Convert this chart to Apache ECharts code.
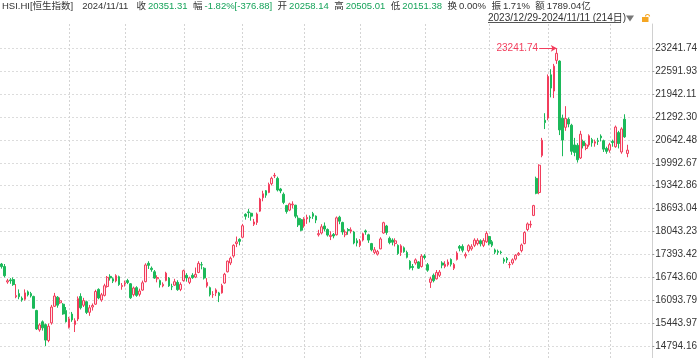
<!DOCTYPE html>
<html><head><meta charset="utf-8">
<script src="https://cdn.jsdelivr.net/npm/echarts@6/dist/echarts.min.js"></script>
<style>html,body{margin:0;padding:0;background:#fff}#c{width:700px;height:358px}</style>
</head><body><div id="c"></div>
<script>
const dates = ['2023/12/29',
'2024/01/02','2024/01/03','2024/01/04','2024/01/05','2024/01/08','2024/01/09','2024/01/10','2024/01/11','2024/01/12','2024/01/15','2024/01/16','2024/01/17','2024/01/18','2024/01/19','2024/01/22','2024/01/23','2024/01/24','2024/01/25','2024/01/26','2024/01/29','2024/01/30','2024/01/31',
'2024/02/01','2024/02/02','2024/02/05','2024/02/06','2024/02/07','2024/02/08','2024/02/09','2024/02/14','2024/02/15','2024/02/16','2024/02/19','2024/02/20','2024/02/21','2024/02/22','2024/02/23','2024/02/26','2024/02/27','2024/02/28','2024/02/29',
'2024/03/01','2024/03/04','2024/03/05','2024/03/06','2024/03/07','2024/03/08','2024/03/11','2024/03/12','2024/03/13','2024/03/14','2024/03/15','2024/03/18','2024/03/19','2024/03/20','2024/03/21','2024/03/22','2024/03/25','2024/03/26','2024/03/27','2024/03/28',
'2024/04/02','2024/04/03','2024/04/05','2024/04/08','2024/04/09','2024/04/10','2024/04/11','2024/04/12','2024/04/15','2024/04/16','2024/04/17','2024/04/18','2024/04/19','2024/04/22','2024/04/23','2024/04/24','2024/04/25','2024/04/26','2024/04/29','2024/04/30',
'2024/05/02','2024/05/03','2024/05/06','2024/05/07','2024/05/08','2024/05/09','2024/05/10','2024/05/13','2024/05/14','2024/05/16','2024/05/17','2024/05/20','2024/05/21','2024/05/22','2024/05/23','2024/05/24','2024/05/27','2024/05/28','2024/05/29','2024/05/30','2024/05/31',
'2024/06/03','2024/06/04','2024/06/05','2024/06/06','2024/06/07','2024/06/11','2024/06/12','2024/06/13','2024/06/14','2024/06/17','2024/06/18','2024/06/19','2024/06/20','2024/06/21','2024/06/24','2024/06/25','2024/06/26','2024/06/27','2024/06/28',
'2024/07/02','2024/07/03','2024/07/04','2024/07/05','2024/07/08','2024/07/09','2024/07/10','2024/07/11','2024/07/12','2024/07/15','2024/07/16','2024/07/17','2024/07/18','2024/07/19','2024/07/22','2024/07/23','2024/07/24','2024/07/25','2024/07/26','2024/07/29','2024/07/30','2024/07/31',
'2024/08/01','2024/08/02','2024/08/05','2024/08/06','2024/08/07','2024/08/08','2024/08/09','2024/08/12','2024/08/13','2024/08/14','2024/08/15','2024/08/16','2024/08/19','2024/08/20','2024/08/21','2024/08/22','2024/08/23','2024/08/26','2024/08/27','2024/08/28','2024/08/29','2024/08/30',
'2024/09/02','2024/09/03','2024/09/04','2024/09/05','2024/09/06','2024/09/09','2024/09/10','2024/09/11','2024/09/12','2024/09/13','2024/09/16','2024/09/17','2024/09/19','2024/09/20','2024/09/23','2024/09/24','2024/09/25','2024/09/26','2024/09/27','2024/09/30',
'2024/10/02','2024/10/03','2024/10/04','2024/10/07','2024/10/08','2024/10/09','2024/10/10','2024/10/14','2024/10/15','2024/10/16','2024/10/17','2024/10/18','2024/10/21','2024/10/22','2024/10/23','2024/10/24','2024/10/25','2024/10/28','2024/10/29','2024/10/30','2024/10/31',
'2024/11/01','2024/11/04','2024/11/05','2024/11/06','2024/11/07','2024/11/08','2024/11/11'];

const opens = [17120,
17050,16610,16670,16680,16190,16280,16150,16120,16330,16280,16200,15800,15250,15480,15400,14950,15450,15920,16180,16020,15980,15800,
15320,15700,15400,15560,16200,15950,16050,15750,15900,15980,16400,16100,16230,16480,16770,16700,16640,16760,16480,
16560,16650,16560,16250,16450,16260,16380,16620,17140,17000,16900,16700,16650,16500,16650,16720,16480,16520,16600,16400,
16650,16800,16600,16800,16750,16880,17100,17000,16500,16450,16250,16300,16300,16300,16580,16900,17150,17350,17700,17820,
17880,18530,18600,18560,18250,18300,18620,19000,19200,19150,19400,19620,19550,19250,19100,18780,18650,18800,18790,18420,18380,
18200,18400,18450,18550,18480,17950,18000,18200,18100,17900,17960,17950,18450,18300,17950,18100,18050,18030,17780,
17650,17800,18060,17950,17700,17450,17400,17550,18000,18200,17850,17800,17700,17650,17450,17580,17450,17200,17050,17150,17180,17050,
17350,17100,16600,16800,16700,16800,17150,17050,17100,17250,17000,17250,17620,17620,17350,17500,17550,17650,17700,17780,17650,17750,
17900,17750,17520,17480,17460,17250,17280,17100,17150,17260,17380,17500,17700,18100,18230,18500,19550,19150,20200,21200,
21260,22490,22030,22900,22880,21260,21000,21230,21060,20500,20490,20130,20600,20400,20500,20650,20550,20620,20750,20620,20400,
20350,20600,20450,20850,20300,21230,20258.14];

const closes = [17047.39,
16788.55,16645.98,16646.41,16535.33,16224.45,16190.02,16097.28,16302.03,16244.58,16216.33,15865.92,15276.90,15391.82,15308.69,14961.18,15353.98,15899.87,16211.96,15952.23,16077.24,15703.45,15485.07,
15566.21,15533.56,15510.01,16137.00,15878.07,16081.89,15746.58,15879.38,15944.63,16339.96,16155.61,16247.51,16503.10,16742.35,16725.86,16634.74,16790.80,16536.85,16511.44,
16589.44,16595.97,16162.64,16438.09,16229.78,16353.39,16587.29,17093.50,17082.11,16961.64,16720.89,16737.12,16529.48,16543.07,16863.10,16499.47,16473.64,16618.32,16392.84,16541.42,
16931.52,16725.10,16723.92,16732.85,16828.07,17139.17,17095.03,16721.69,16600.46,16248.97,16251.84,16385.87,16224.14,16511.69,16828.93,17201.27,17284.54,17651.15,17746.91,17763.03,
18207.13,18475.92,18578.30,18479.37,18313.86,18537.81,18963.68,19115.06,19073.71,19376.53,19553.61,19636.22,19220.62,19195.60,18868.71,18608.94,18827.35,18821.16,18477.01,18230.19,18079.61,
18403.04,18444.11,18424.96,18475.89,18366.95,17983.07,18176.34,18112.63,17941.78,17936.12,17915.55,18430.39,18335.32,18028.52,18027.71,18072.90,18089.93,17716.47,17718.61,
17769.14,17978.57,18028.28,17799.61,17524.06,17523.23,17471.67,17832.33,18293.38,18015.94,17727.98,17739.41,17778.41,17417.68,17635.88,17469.36,17311.05,17004.96,17021.31,17238.34,17002.91,17344.60,
17304.96,16945.51,16698.36,16647.34,16877.86,16891.83,17090.23,17111.92,17174.06,17113.36,17109.14,17430.16,17569.57,17511.08,17391.01,17641.02,17612.10,17798.73,17790.97,17692.45,17786.32,17989.07,
17691.97,17651.49,17457.34,17453.00,17444.30,17196.96,17234.09,17108.71,17240.39,17369.09,17422.12,17660.02,18013.16,18258.57,18247.11,18778.18,19129.10,19924.58,20632.30,21133.68,
22443.73,22113.51,22736.87,23099.78,20926.79,20637.24,21251.98,21092.87,20318.79,20286.83,20079.11,20804.11,20478.46,20498.95,20760.15,20559.00,20590.15,20599.36,20701.05,20380.64,20317.33,
20506.43,20567.52,21006.97,20538.38,20953.34,20728.19,20351.31];

const lows = [16990,
16740,16560,16560,16500,16150,16120,16050,16080,16200,16170,15860,15250,15200,15230,14794.16,14900,15400,15900,15880,15990,15680,15460,
15290,15480,15190,15500,15830,15900,15700,15650,15800,15960,16120,16050,16200,16450,16650,16580,16600,16500,16390,
16480,16550,16130,16200,16190,16200,16360,16600,16980,16900,16700,16600,16450,16460,16630,16470,16380,16500,16360,16350,
16620,16620,16550,16700,16720,16860,16970,16680,16450,16200,16160,16210,16040,16280,16560,16880,17090,17300,17600,17650,
17850,18380,18430,18350,18200,18230,18600,18900,19000,19130,19350,19560,19180,19130,18820,18550,18620,18700,18420,18170,18050,
18150,18260,18300,18400,18280,17900,17960,18050,17900,17800,17850,17930,18250,17950,17880,17950,17990,17680,17620,
17600,17760,17950,17720,17480,17400,17360,17540,17980,17950,17680,17650,17620,17380,17350,17440,17280,16960,16940,17100,16980,17020,
17250,16900,16441,16600,16680,16750,17000,17000,17050,17050,16950,17220,17480,17450,17280,17450,17500,17600,17650,17620,17600,17720,
17650,17600,17400,17380,17400,17130,17150,17000,17100,17220,17350,17450,17680,18050,18150,18480,19100,19100,20150,20950,
21200,21850,21830,22800,20780,20180,20900,21000,20220,20180,20000,20100,20400,20350,20450,20450,20450,20500,20600,20300,20250,
20280,20450,20420,20400,20250,20700,20151.38];

const highs = [17150,
17120,16700,16720,16740,16550,16400,16200,16400,16370,16330,16220,15820,15440,15520,15430,15430,15960,16300,16210,16170,16010,15900,
15620,15760,15580,16200,16290,16160,16080,15960,16000,16390,16430,16300,16560,16780,16830,16740,16830,16790,16580,
16650,16700,16580,16480,16490,16420,16650,17140,17200,17050,16950,16800,16680,16600,16900,16750,16560,16700,16660,16600,
16960,16860,16760,16860,17020,17200,17180,17030,16720,16480,16350,16430,16330,16560,16870,17220,17330,17680,17900,17850,
18260,18560,18680,18580,18400,18580,19000,19200,19220,19430,19600,19706,19600,19280,19150,18800,18860,18900,18800,18500,18420,
18450,18520,18500,18600,18500,18090,18250,18300,18130,18050,18000,18470,18490,18320,18100,18140,18160,18060,17850,
17830,18010,18100,17980,17720,17600,17520,17880,18320,18230,17900,17850,17850,17680,17680,17620,17500,17230,17120,17280,17200,17400,
17400,17150,16760,16850,16950,16950,17200,17200,17250,17280,17150,17480,17660,17680,17450,17680,17680,17850,17850,17820,17850,18050,
17920,17800,17560,17530,17500,17300,17320,17180,17280,17400,17460,17700,18050,18300,18350,18800,19600,19950,20700,21400,
22500,22650,22800,23241.74,22900,21360,21600,21280,21100,20700,20550,20900,20650,20560,20800,20700,20650,20700,20800,20650,20450,
20560,20650,21050,20900,21000,21370,20505.01];

const monthStarts = ['2024/02/01','2024/03/01','2024/04/02','2024/05/02','2024/06/03','2024/07/02','2024/08/01','2024/09/02','2024/10/02','2024/11/01'];
const yTickLabels = ['23241.74','22591.93','21942.11','21292.30','20642.48','19992.67','19342.86','18693.04','18043.23','17393.42','16743.60','16093.79','15443.97','14794.16'];

const symbolName = 'HSI.HI[恒生指数]';
const quoteDate = '2024/11/11';
const quoteLabels = ['收','幅','开','高','低','换','振','额'];
const quoteValues = ['20351.31','-1.82%[-376.88]','20258.14','20505.01','20151.38','0.00%','1.71%','1789.04亿'];
const quoteIsPrice = [true,true,true,true,true,false,false,false];

const RED = '#f23d5c', GREEN = '#1cb95a', QGREEN = '#16a35a';
const FONT = '"Liberation Sans","Noto Sans CJK SC",sans-serif';
const GRID = {left: 0, right: 45, top: 24, bottom: 0};
const H = 358;

const candles = dates.map((d, i) => [opens[i], closes[i], lows[i], highs[i]]);
const tickNums = yTickLabels.map(Number);
const tTop = Math.max(...tickNums), tBot = Math.min(...tickNums);
const tStep = (tTop - tBot) / (tickNums.length - 1);
const yMin = Math.floor(tBot - tStep * 0.524), yMax = Math.ceil(tTop + tStep * 1.061);
let maxIdx = 0;
highs.forEach((h, i) => { if (h > highs[maxIdx]) maxIdx = i; });

// header laid out as a flow of text runs
const hdrFont = '9.5px ' + FONT;
const ctx = document.createElement('canvas').getContext('2d');
ctx.font = hdrFont;
const tw = s => ctx.measureText(s).width;
const headerY = 6.5;
const graphics = [];
let cx = 2;
function run(text, color, gapAfter) {
  graphics.push({type:'text', style:{x:cx, y:headerY, text, fill:color, font:hdrFont, verticalAlign:'middle'}});
  cx += tw(text) + gapAfter;
}
run(symbolName, '#333', 9);
run(quoteDate, '#333', 8);
quoteLabels.forEach((l, k) => {
  run(l, '#333', 2);
  run(quoteValues[k], quoteIsPrice[k] ? QGREEN : '#333', 5.5);
});
const rangeText = dates[0] + '-' + dates[dates.length - 1] + ' (' + dates.length + '日)';
graphics.push({type:'text', style:{x:488, y:18.5, text:rangeText, fill:'#333', font:'10px '+FONT, verticalAlign:'middle'}});
graphics.push({type:'line', shape:{x1:488, y1:22.5, x2:621, y2:22.5}, style:{stroke:'#555', lineWidth:1}});
graphics.push({type:'polygon', shape:{points:[[626,15.5],[634,15.5],[630,21.5]]}, style:{fill:'#777'}});
graphics.push({type:'rect', shape:{x:642, y:17, width:6.5, height:5}, style:{fill:'#f5a623'}});
graphics.push({type:'arc', shape:{cx:647.5, cy:16.5, r:2, startAngle:Math.PI, endAngle:0, clockwise:true}, style:{stroke:'#f5a623', lineWidth:1.2, fill:null}});

const option = {
  animation: false,
  backgroundColor: '#fff',
  grid: Object.assign({containLabel: false}, GRID),
  xAxis: {
    type: 'category', data: dates, boundaryGap: true,
    max: dates.length - 1 + 8,
    axisLine: {show: false}, axisTick: {show: false}, axisLabel: {show: false}, splitLine: {show: false}
  },
  yAxis: {
    type: 'value', position: 'right', scale: true,
    min: yMin, max: yMax,
    axisLine: {show: true, lineStyle: {color: '#d0d0d0'}},
    axisTick: {show: true, length: 2, customValues: tickNums, lineStyle: {color: '#999'}},
    axisLabel: {show: true, customValues: tickNums, color: '#333', fontSize: 10, fontFamily: FONT, margin: 3,
      formatter: v => Number(v).toFixed(2)},
    splitLine: {show: true, lineStyle: {color: '#dcdcdc', type: [2, 2], width: 1}}
  },
  series: [
    {
      type: 'candlestick', data: candles, barWidth: '74%', z: 3,
      itemStyle: {color: '#fde3e8', color0: GREEN, borderColor: RED, borderColor0: GREEN, borderWidth: 1}
    },
    {
      type: 'line', data: [], silent: true, z: 4,
      markLine: {
        silent: true, animation: false, symbol: ['none', 'arrow'], symbolSize: [5, 6],
        lineStyle: {color: RED, type: 'solid', width: 1},
        label: {show: true, position: 'start', color: RED, fontSize: 10, fontFamily: FONT, distance: 1,
          formatter: () => highs[maxIdx].toFixed(2)},
        data: [[{coord: [dates[maxIdx - 6], highs[maxIdx]]}, {coord: [dates[maxIdx], highs[maxIdx]]}]]
      }
    }
  ]
};
const chart = echarts.init(document.getElementById('c'), null, {renderer: 'canvas'});
chart.setOption(option);

// month separators: positions taken from the category axis after layout
const bandW = (700 - GRID.left - GRID.right) / (dates.length + 8);
monthStarts.forEach(d => {
  const idx = dates.indexOf(d);
  let px = chart.convertToPixel({xAxisIndex: 0}, idx);
  if (!isFinite(px)) px = GRID.left + (idx + 0.5) * bandW;
  const x = Math.round(px) + 0.5;
  graphics.push({type: 'line', silent: true, z: 1, z2: 0,
    shape: {x1: x, y1: GRID.top, x2: x, y2: H - GRID.bottom},
    style: {stroke: '#d4d4d4', lineWidth: 1, lineDash: [2, 2]}});
});
chart.setOption({graphic: graphics});
</script></body></html>
